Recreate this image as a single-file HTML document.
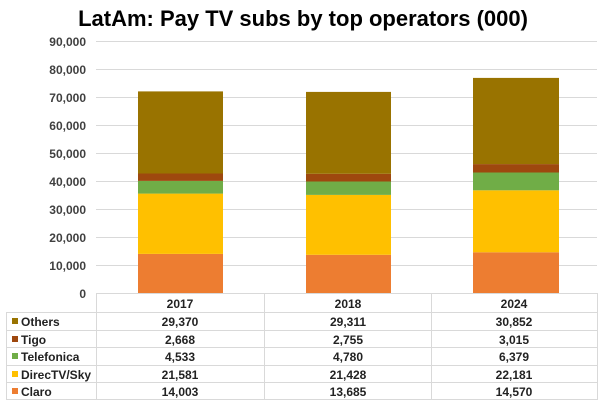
<!DOCTYPE html><html><head><style>
body{margin:0;background:#fff;font-family:"Liberation Sans",Arial,sans-serif;}
</style></head><body>
<svg width="605" height="403" xmlns="http://www.w3.org/2000/svg" font-family="Liberation Sans, Arial, sans-serif">
<rect width="605" height="403" fill="#fff"/>
<text x="303" y="26" text-anchor="middle" font-size="22" font-weight="bold" fill="#000">LatAm: Pay  TV subs by top operators (000)</text>
<g stroke="#d9d9d9" stroke-width="1">
<line x1="96" x2="597" y1="41.5" y2="41.5"/><line x1="96" x2="597" y1="69.5" y2="69.5"/>
<line x1="96" x2="597" y1="97.5" y2="97.5"/><line x1="96" x2="597" y1="125.5" y2="125.5"/>
<line x1="96" x2="597" y1="153.5" y2="153.5"/><line x1="96" x2="597" y1="181.5" y2="181.5"/>
<line x1="96" x2="597" y1="209.5" y2="209.5"/><line x1="96" x2="597" y1="237.5" y2="237.5"/>
<line x1="96" x2="597" y1="265.5" y2="265.5"/>
</g>
<g font-size="12" font-weight="bold" fill="#404040" text-anchor="end">
<text x="86" y="46">90,000</text><text x="86" y="74">80,000</text><text x="86" y="102">70,000</text>
<text x="86" y="130">60,000</text><text x="86" y="158">50,000</text><text x="86" y="186">40,000</text>
<text x="86" y="214">30,000</text><text x="86" y="242">20,000</text><text x="86" y="270">10,000</text>
<text x="86" y="298">0</text>
</g>
<!-- scale 2.794 px per 1000, base 293 -->
<g>
<rect x="138" width="85" y="253.9" height="39.1" fill="#ed7d31"/>
<rect x="138" width="85" y="193.6" height="60.3" fill="#ffc000"/>
<rect x="138" width="85" y="180.9" height="12.7" fill="#70ad47"/>
<rect x="138" width="85" y="173.5" height="7.4" fill="#9e480e"/>
<rect x="138" width="85" y="91.4" height="82.1" fill="#997300"/>

<rect x="306" width="85" y="254.8" height="38.2" fill="#ed7d31"/>
<rect x="306" width="85" y="194.9" height="59.9" fill="#ffc000"/>
<rect x="306" width="85" y="181.5" height="13.4" fill="#70ad47"/>
<rect x="306" width="85" y="173.8" height="7.7" fill="#9e480e"/>
<rect x="306" width="85" y="91.9" height="81.9" fill="#997300"/>

<rect x="473" width="86" y="252.3" height="40.7" fill="#ed7d31"/>
<rect x="473" width="86" y="190.3" height="62.0" fill="#ffc000"/>
<rect x="473" width="86" y="172.5" height="17.8" fill="#70ad47"/>
<rect x="473" width="86" y="164.1" height="8.4" fill="#9e480e"/>
<rect x="473" width="86" y="77.9" height="86.2" fill="#997300"/>
</g>
<g stroke="#d9d9d9" stroke-width="1" fill="none">
<line x1="96.5" x2="96.5" y1="293" y2="400"/><line x1="264.5" x2="264.5" y1="293" y2="400"/>
<line x1="431.5" x2="431.5" y1="293" y2="400"/><line x1="597.5" x2="597.5" y1="293" y2="400"/>
<line x1="96" x2="597" y1="293.5" y2="293.5"/>
<line x1="6" x2="597" y1="312.5" y2="312.5"/><line x1="6" x2="597" y1="330.5" y2="330.5"/>
<line x1="6" x2="597" y1="347.5" y2="347.5"/><line x1="6" x2="597" y1="365.5" y2="365.5"/>
<line x1="6" x2="597" y1="382.5" y2="382.5"/><line x1="6" x2="597" y1="399.5" y2="399.5"/>
<line x1="6.5" x2="6.5" y1="312" y2="400"/>
</g>
<g font-size="12" font-weight="bold" fill="#222" text-anchor="middle">
<text x="180" y="308">2017</text><text x="348" y="308">2018</text><text x="514" y="308">2024</text>
<text x="180" y="326">29,370</text><text x="348" y="326">29,311</text><text x="514" y="326">30,852</text>
<text x="180" y="344">2,668</text><text x="348" y="344">2,755</text><text x="514" y="344">3,015</text>
<text x="180" y="361">4,533</text><text x="348" y="361">4,780</text><text x="514" y="361">6,379</text>
<text x="180" y="379">21,581</text><text x="348" y="379">21,428</text><text x="514" y="379">22,181</text>
<text x="180" y="396">14,003</text><text x="348" y="396">13,685</text><text x="514" y="396">14,570</text>
</g>
<g font-size="12" font-weight="bold" fill="#222">
<rect x="12" y="318" width="6" height="6" fill="#997300"/><text x="21" y="326">Others</text>
<rect x="12" y="336" width="6" height="6" fill="#9e480e"/><text x="21" y="344">Tigo</text>
<rect x="12" y="353" width="6" height="6" fill="#70ad47"/><text x="21" y="361">Telefonica</text>
<rect x="12" y="371" width="6" height="6" fill="#ffc000"/><text x="21" y="379">DirecTV/Sky</text>
<rect x="12" y="388" width="6" height="6" fill="#ed7d31"/><text x="21" y="396">Claro</text>
</g>
</svg>
</body></html>
